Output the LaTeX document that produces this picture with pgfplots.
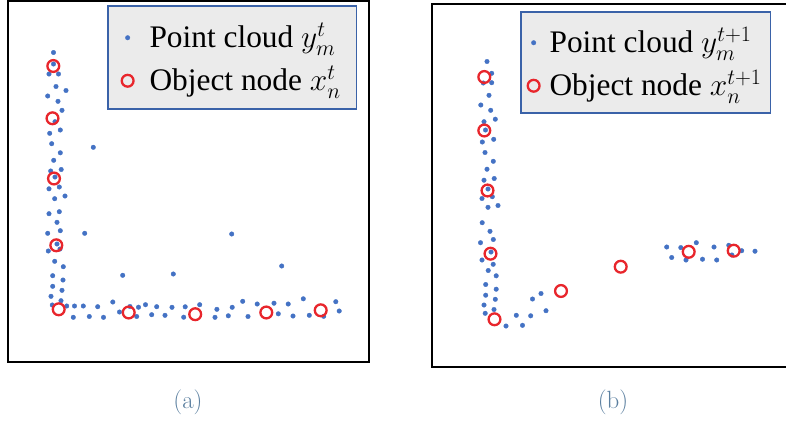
\RequirePackage{fix-cm}
\documentclass[border=0pt]{standalone}
\usepackage{fontspec}
\newfontfamily\tnr{Liberation Serif}
\usepackage{pgfplots}
\pgfplotsset{compat=1.18}
\definecolor{ptblue}{HTML}{4472C4}
\definecolor{nodered}{HTML}{E8262C}
\definecolor{legborder}{HTML}{3A62A8}
\definecolor{capcol}{RGB}{92,128,160}
\pgfplotsset{
  panel/.style={scale only axis, y dir=reverse, xtick=\empty, ytick=\empty,
    axis line style={line width=2bp, black}, legend cell align=left},
  dots/.style={only marks, mark=*, mark size=2.3bp, line width=0.3bp,
    draw=ptblue, fill=ptblue, mark options={draw=ptblue, fill=ptblue},
    legend image code/.code={\draw[##1] plot coordinates {(0bp,-2bp)};}},
  circs/.style={only marks, mark=o, mark size=5.9bp, line width=2.3bp,
    draw=nodered, mark options={draw=nodered, line width=2.3bp},
    legend image code/.code={\draw[##1] plot coordinates {(0bp,-2bp)};}},
}
\begin{document}
\begin{tikzpicture}
\useasboundingbox (0bp,0bp) rectangle (786bp,-423bp);
% ---------------- panel (a) ----------------
\begin{axis}[panel, at={(188.5bp,-181.5bp)}, anchor=center,
  width=361bp, height=361bp, xmin=8, xmax=369, ymin=1, ymax=362,
  legend style={at={(axis cs:107,5)}, anchor=north west, fill=black!8,
    draw=legborder, line width=1.5bp, inner xsep=14bp, inner ysep=14bp,
    row sep=11bp, font=\tnr\fontsize{31.5}{36}\selectfont,
    nodes={inner xsep=2bp, inner ysep=0bp, text height=28bp, text depth=4bp},
    /tikz/every odd column/.append style={column sep=14bp}}]
\addplot[dots] coordinates {
(53.5,52.5) (49,74) (58.5,74) (56,86.5) (66,90.5) (47.7,96) (58,101.3)
(62,110.3) (55,121.7) (60.3,130) (49.7,133.3) (51.7,143.7) (93.3,147.3)
(60.3,152.8) (53.7,160.3) (61.2,169.5) (50.7,171) (49,188.8) (59.3,187)
(54.7,198.7) (65,196) (49,213.7) (59.3,211.7) (57,222.3) (47.7,233.3)
(60.3,230.7) (84.7,233.3) (60,249) (48.3,251) (54.7,261.3) (63.3,266.7)
(52.7,275.7) (63,280) (52.7,286.3) (62,290.3) (51,296.3) (61,300.7)
(52.3,305) (53.5,64) (55,177) (57,244)
(66.7,306) (74.5,306) (83.3,306) (97.7,306.7) (112.8,302) (119.5,312)
(130,306.5) (138.5,307.2) (145.5,304.7) (156.7,306.7) (172,307.3)
(185.2,306.8) (199.7,304.7) (216.9,309.3) (232.2,307.3) (242.7,301.3)
(257.2,304) (274,303.2) (288.2,304) (303.3,298.8) (335.8,301.7) (339.2,311)
(73.3,317.3) (89.3,316.5) (103.5,317.3) (136.7,316.5) (151.7,314.7)
(165,315.3) (183.7,317.2) (215,317.3) (228.3,315.8) (248,316.5)
(278.3,313.8) (293,316) (309.3,315.3) (323.7,316.3)
(122.7,275.3) (173.3,274) (231.7,234) (281.7,266)
};
\addlegendentry{Point cloud $y_m^t$}
\addplot[circs] coordinates {
(53.3,66) (52.5,118.3) (54,178.5) (56.3,245.3) (58.7,309.3)
(128.7,312.5) (195.2,314.2) (266.3,312.5) (320.7,310.3)
};
\addlegendentry{Object node $x_n^t$}
\end{axis}
% ---------------- panel (b) ----------------
\begin{axis}[panel, at={(612bp,-185.5bp)}, anchor=center,
  width=360bp, height=363bp, xmin=432, xmax=792, ymin=4, ymax=367,
  legend style={at={(axis cs:520,11)}, anchor=north west, fill=black!8,
    draw=legborder, line width=1.5bp, inner xsep=7bp, inner ysep=13bp,
    row sep=11bp, font=\tnr\fontsize{31.5}{36}\selectfont,
    nodes={inner xsep=2bp, inner ysep=0bp, text height=28bp, text depth=4bp},
    /tikz/every odd column/.append style={column sep=8bp}}]
\addplot[dots] coordinates {
(487,61.5) (491.7,73.3) (483.3,83) (491.7,82.7) (489,95.3) (480.8,105)
(490.7,110.3) (484,121.7) (495.3,119.2) (482.3,142) (493.7,139.3)
(485,152.5) (493.3,161.3) (487,169.2) (484,180.2) (494.2,178.5)
(482,198.5) (492.3,196.7) (488,207.3) (498,205.5) (482.2,222.7)
(490,231.3) (480.5,242.7) (493.3,239.5) (482,260) (493.2,264.3)
(488.2,270.5) (496.2,275.8) (485.7,284.5) (496.2,289.2) (485.7,295.2)
(495.3,299.3) (484,305) (494,309.5) (485.2,313.3)
(485.5,130) (488,189) (491,252)
(506,326) (516.3,315.3) (522.5,325.3) (530.7,315.8) (546,310.7)
(532.5,299) (541,293.5)
(666.7,247) (671.7,257.5) (680.8,247.6) (696.3,242.7) (686,260)
(702.5,259.2) (714,247) (716.7,260) (728.8,245.3) (731.9,255)
(741.7,250.7) (755,251.2)
};
\addlegendentry{Point cloud $y_m^{t+1}$}
\addplot[circs] coordinates {
(484.3,77) (484.3,130.5) (487.5,190.5) (490.5,253.7) (494.5,319.3)
(561,291) (620.7,266.7) (688.7,251.8) (733.7,250.7)
};
\addlegendentry{Object node $x_n^{t+1}$}
\end{axis}
\node[font=\fontsize{25}{30}\selectfont, text=capcol, anchor=base] at (188bp,-408bp) {(a)};
\node[font=\fontsize{25}{30}\selectfont, text=capcol, anchor=base] at (613bp,-408bp) {(b)};
\end{tikzpicture}
\end{document}
